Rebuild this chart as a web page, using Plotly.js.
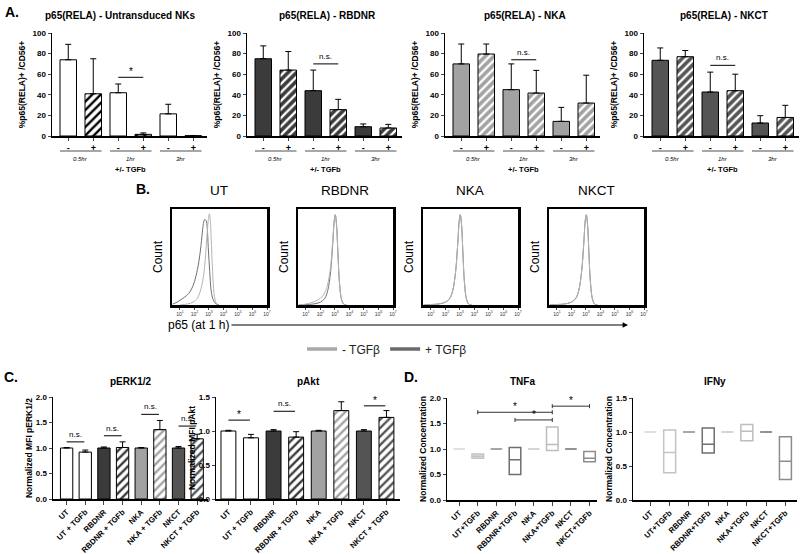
<!DOCTYPE html>
<html>
<head>
<meta charset="utf-8">
<script src="https://cdn.plot.ly/plotly-3.0.1.min.js"></script>
<style>
  html, body { margin: 0; padding: 0; background: #fff; }
  #plot { width: 800px; height: 554px; }
</style>
</head>
<body>
<div id="plot"></div>
<script>
// ---------- data ----------
var timePoints = ['0.5hr', '1hr', '3hr'];
var tgfSigns = ['-', '+'];
var cellTypes = ['UT', 'RBDNR', 'NKA', 'NKCT'];

// A: %p65(RELA)+ /CD56+ (mean, upper error) for -TGFb and +TGFb
var aTitles = ['p65(RELA) - Untransduced NKs', 'p65(RELA) - RBDNR', 'p65(RELA) - NKA', 'p65(RELA) - NKCT'];
var aMinus = [[74, 42, 21.5], [75, 44, 9], [70, 45, 14.2], [73.5, 42.7, 12.6]];
var aMinusErr = [[15, 8.5, 9.3], [12.5, 20, 2.7], [19.3, 25, 13.6], [12, 19.3, 7.1]];
var aPlus = [[41, 1.6, 0.3], [64, 25.6, 7.8], [79.6, 41.7, 32], [77, 44, 18]];
var aPlusErr = [[34, 1.4, 0.2], [18, 10, 3.5], [9.7, 22, 27], [6, 16, 11.8]];
var aSigLabel = ['*', 'n.s.', 'n.s.', 'n.s.'];
var aSigY = [57, 70, 74, 68.6];

// B: p65 histograms at 1 h (log10 decade, normalised count)
var bTitles = ['UT', 'RBDNR', 'NKA', 'NKCT'];
var utMinusDec = [1.0, 1.5, 1.9, 2.2, 2.5, 2.7, 2.85, 2.95, 3.02, 3.08, 3.15, 3.25, 3.35, 3.5, 3.7];
var utMinusCnt = [0, 0.01, 0.03, 0.07, 0.2, 0.4, 0.7, 0.88, 0.95, 0.9, 0.7, 0.35, 0.12, 0.02, 0];
var utPlusDec = [0.5, 0.8, 1.0, 1.3, 1.6, 1.9, 2.1, 2.3, 2.45, 2.6, 2.7, 2.8, 2.88, 2.95, 3.05, 3.15, 3.3, 3.5, 3.7];
var utPlusCnt = [0.01, 0.03, 0.05, 0.08, 0.12, 0.2, 0.3, 0.45, 0.62, 0.83, 0.89, 0.88, 0.8, 0.6, 0.35, 0.15, 0.05, 0.01, 0];
var rbMinusDec = [0.5, 1.0, 1.5, 2.0, 2.3, 2.5, 2.7, 2.85, 2.95, 3.02, 3.1, 3.2, 3.3, 3.45, 3.6, 3.8];
var rbMinusCnt = [0, 0.01, 0.03, 0.07, 0.13, 0.22, 0.4, 0.68, 0.88, 0.94, 0.84, 0.55, 0.25, 0.06, 0.01, 0];
var rbPlusDec = [0.5, 1.0, 1.5, 2.0, 2.3, 2.5, 2.7, 2.85, 2.95, 3.02, 3.1, 3.2, 3.3, 3.45, 3.6, 3.8];
var rbPlusCnt = [0, 0.005, 0.01, 0.03, 0.07, 0.15, 0.35, 0.65, 0.88, 0.94, 0.85, 0.55, 0.25, 0.06, 0.01, 0];
var nkDec = [0.5, 1.0, 1.5, 2.0, 2.3, 2.5, 2.7, 2.85, 2.95, 3.02, 3.1, 3.2, 3.3, 3.45, 3.6, 3.8];
var nkCnt = [0, 0.005, 0.01, 0.03, 0.07, 0.15, 0.35, 0.65, 0.88, 0.94, 0.85, 0.55, 0.25, 0.06, 0.01, 0];
var bCurves = [
  [utPlusDec, utPlusCnt, utMinusDec, utMinusCnt],
  [rbPlusDec, rbPlusCnt, rbMinusDec, rbMinusCnt],
  [nkDec, nkCnt, nkDec, nkCnt],
  [nkDec, nkCnt, nkDec, nkCnt]
];
var decadeTicks = [1, 2, 3, 4, 5, 6, 7];

// C: normalised MFI
var cLabels = ['UT', 'UT + TGFb', 'RBDNR', 'RBDNR + TGFb', 'NKA', 'NKA + TGFb', 'NKCT', 'NKCT + TGFb'];
var cTitles = ['pERK1/2', 'pAkt'];
var cYTitles = ['Normalized MFI pERK1/2', 'Normalized MFI pAkt'];
var cMinus = [[1.0, 1.0, 1.0, 1.0], [1.0, 1.0, 1.0, 1.0]];
var cMinusErr = [[0.01, 0.02, 0.01, 0.03], [0.01, 0.02, 0.01, 0.02]];
var cPlus = [[0.92, 1.01, 1.36, 1.18], [0.90, 0.91, 1.30, 1.20]];
var cPlusErr = [[0.04, 0.11, 0.18, 0.09], [0.05, 0.08, 0.13, 0.10]];
var cSigLabel = [['n.s.', 'n.s.', 'n.s.', 'n.s.'], ['*', 'n.s.', '*', '*']];
var cSigY = [[1.12, 1.24, 1.66, 1.43], [1.16, 1.29, 1.64, 1.37]];

// D: normalised concentration, floating bars (min, median, max)
var dLabels = ['UT', 'UT+TGFb', 'RBDNR', 'RBDNR+TGFb', 'NKA', 'NKA+TGFb', 'NKCT', 'NKCT+TGFb'];
var dTitles = ['TNFa', 'IFNy'];
var tnfMin = [1, 0.82, 1, 0.50, 1, 0.97, 1, 0.75];
var tnfMed = [1, 0.86, 1, 0.79, 1, 1.09, 1, 0.82];
var tnfMax = [1, 0.90, 1, 1.03, 1, 1.43, 1, 0.95];
var ifnMin = [1, 0.40, 1, 0.69, 1, 0.87, 1, 0.30];
var ifnMed = [1, 0.70, 1, 0.82, 1, 1.01, 1, 0.57];
var ifnMax = [1, 1.03, 1, 1.06, 1, 1.11, 1, 0.93];
var tnfSig = [[1, 5, 1.72], [3, 5, 1.57], [5, 7, 1.84]];

// ---------- helpers ----------
var W = 800, H = 554;
var FONT = 'Liberation Sans, Arial, sans-serif';
function fx(p) { return p / W; }
function fy(p) { return 1 - p / H; }
function sfx(k) { return k === 1 ? '' : String(k); }

var typeFill = ['#ffffff', '#3b3b3b', '#a2a2a2', '#545454'];
var typeStripe = ['#000000', '#ffffff', '#ffffff', '#ffffff'];
var dColors = ['#d6d6d6', '#c4c4c4', '#8a8a8a', '#6f6f6f', '#c8c8c8', '#bdbdbd', '#6f6f6f', '#8c8c8c'];

var traces = [];
var layout = {
  width: W, height: H,
  margin: { l: 0, r: 0, t: 0, b: 0 },
  paper_bgcolor: '#fff', plot_bgcolor: 'rgba(0,0,0,0)',
  font: { family: FONT, color: '#000' },
  barmode: 'overlay',
  showlegend: true,
  legend: {
    orientation: 'h', x: fx(302), y: fy(349), xanchor: 'left', yanchor: 'middle',
    font: { size: 12, family: FONT, color: '#222' }, itemwidth: 30, bgcolor: 'rgba(0,0,0,0)'
  },
  annotations: [],
  shapes: []
};

function note(text, x, y, size, opts) {
  var a = { text: text, x: x, y: y, xref: 'paper', yref: 'paper', showarrow: false,
    xanchor: 'center', yanchor: 'middle',
    font: { size: size, family: FONT, color: '#000' } };
  for (var key in (opts || {})) a[key] = opts[key];
  layout.annotations.push(a);
}

function catAxis(dom, range, ticktext, extra) {
  var ax = { domain: dom, range: range, tickvals: ticktext.map(function (t, i) { return i; }), ticktext: ticktext,
    ticks: 'outside', ticklen: 3, tickwidth: 1, showline: true, linecolor: '#000', linewidth: 1.5,
    showgrid: false, zeroline: false, tickfont: { size: 9, family: FONT, weight: 'bold' } };
  for (var key in (extra || {})) ax[key] = extra[key];
  return ax;
}
function valAxis(dom, range, dtick, title, extra) {
  var ax = { domain: dom, range: range, dtick: dtick, ticks: 'outside', ticklen: 3, tickwidth: 1,
    showline: true, linecolor: '#000', linewidth: 1.5, showgrid: false, zeroline: false,
    tickfont: { size: 8, family: FONT, weight: 'bold' },
    title: { text: title, font: { size: 8.5, family: FONT, weight: 'bold' }, standoff: 2 } };
  for (var key in (extra || {})) ax[key] = extra[key];
  return ax;
}
function errBar(arr) {
  return { type: 'data', symmetric: false, array: arr, arrayminus: arr.map(function () { return 0; }),
    color: '#000', thickness: 1, width: 3 };
}
function sigLine(s, x0, x1, y, label) {
  layout.shapes.push({ type: 'line', xref: 'x' + s, yref: 'y' + s, x0: x0, x1: x1, y0: y, y1: y,
    line: { color: '#000', width: 1 } });
  layout.annotations.push({ text: label, xref: 'x' + s, yref: 'y' + s, x: (x0 + x1) / 2, y: y,
    xanchor: 'center', yanchor: 'bottom', showarrow: false, yshift: label === '*' ? -2 : 1,
    font: { size: label === '*' ? 10 : 8, family: FONT, color: '#000' } });
}

note('A.', fx(3), fy(12), 14, { xanchor: 'left', font: { size: 14, family: FONT, weight: 'bold' } });

// ---------- panel A ----------
var aLeft = [52, 247, 445, 644];
var aTicks = [];
timePoints.forEach(function () { tgfSigns.forEach(function (g) { aTicks.push(g); }); });
for (var k = 0; k < 4; k++) {
  var s = sfx(k + 1);
  var dom = [fx(aLeft[k]), fx(aLeft[k] + 155)];
  layout['xaxis' + s] = catAxis(dom, [-0.65, 5.55], aTicks, { anchor: 'y' + s });
  layout['yaxis' + s] = valAxis([fy(136), fy(33)], [0, 100], 20, '%p65(RELA)+ /CD56+',
    { anchor: 'x' + s, title: { text: '%p65(RELA)+ /CD56+', font: { size: 8.5, family: FONT, weight: 'bold' }, standoff: 5 } });
  traces.push({ type: 'bar', xaxis: 'x' + s, yaxis: 'y' + s, showlegend: false, width: 0.66,
    x: timePoints.map(function (t, i) { return 2 * i; }), y: aMinus[k], error_y: errBar(aMinusErr[k]),
    marker: { color: typeFill[k], line: { color: '#000', width: 1 } } });
  traces.push({ type: 'bar', xaxis: 'x' + s, yaxis: 'y' + s, showlegend: false, width: 0.66,
    x: timePoints.map(function (t, i) { return 2 * i + 1; }), y: aPlus[k], error_y: errBar(aPlusErr[k]),
    marker: { color: typeFill[k], line: { color: '#000', width: 1 },
      pattern: { shape: '/', bgcolor: typeFill[k], fgcolor: typeStripe[k], size: 6, solidity: 0.4 } } });
  timePoints.forEach(function (t, i) {
    layout.shapes.push({ type: 'line', xref: 'x' + s, yref: 'paper', x0: 2 * i - 0.33, x1: 2 * i + 1.33,
      y0: fy(151), y1: fy(151), line: { color: '#8a8a8a', width: 1.5 } });
    layout.annotations.push({ text: t, xref: 'x' + s, yref: 'paper', x: 2 * i + 0.5, y: fy(159), showarrow: false,
      xanchor: 'center', yanchor: 'middle', font: { size: 6, family: FONT, style: 'italic', color: '#000' } });
  });
  layout.annotations.push({ text: '+/- TGFb', xref: 'x' + s, yref: 'paper', x: 2.5, y: fy(169), showarrow: false,
    xanchor: 'center', yanchor: 'middle', font: { size: 7.5, family: FONT, weight: 'bold', color: '#000' } });
  sigLine(s, 2, 3, aSigY[k], aSigLabel[k]);
  note(aTitles[k], k === 0 ? fx(120) : fx(aLeft[k] + 80), fy(15), 10, { font: { size: 10, family: FONT, weight: 'bold' } });
}

// ---------- panel B ----------
note('B.', fx(134), fy(189), 14, { xanchor: 'left', font: { size: 14, family: FONT, weight: 'bold' } });
var bLeft = [172, 298, 423, 549];
for (var b = 0; b < 4; b++) {
  var s2 = sfx(b + 5);
  layout['xaxis' + s2] = { domain: [fx(bLeft[b]), fx(bLeft[b] + 95)], range: [0.45, 7], anchor: 'y' + s2,
    tickvals: decadeTicks, ticktext: decadeTicks.map(function (d) { return '10<sup>' + d + '</sup>'; }),
    ticks: 'outside', ticklen: 2, showline: true, mirror: true, linecolor: '#000', linewidth: 2.5,
    showgrid: false, zeroline: false, tickfont: { size: 5, family: FONT, color: '#333' } };
  layout['yaxis' + s2] = { domain: [fy(305), fy(209)], range: [0, 1], anchor: 'x' + s2,
    showticklabels: false, ticks: '', showline: true, mirror: true, linecolor: '#000', linewidth: 2.5,
    showgrid: false, zeroline: false, title: { text: 'Count', font: { size: 12, family: FONT }, standoff: 5 } };
  var c = bCurves[b];
  traces.push({ type: 'scatter', mode: 'lines', xaxis: 'x' + s2, yaxis: 'y' + s2, showlegend: false,
    x: c[0], y: c[1], line: { color: '#707070', width: 1, shape: 'spline' } });
  traces.push({ type: 'scatter', mode: 'lines', xaxis: 'x' + s2, yaxis: 'y' + s2, showlegend: false,
    x: c[2], y: c[3], line: { color: '#b4b4b4', width: 1, shape: 'spline' } });
  note(bTitles[b], fx(bLeft[b] + 47), fy(190), 13.5);
}
traces.push({ type: 'scatter', mode: 'lines', x: [null], y: [null], xaxis: 'x5', yaxis: 'y5',
  name: '- TGF\u03b2', line: { color: '#a8a8a8', width: 3.5 } });
traces.push({ type: 'scatter', mode: 'lines', x: [null], y: [null], xaxis: 'x5', yaxis: 'y5',
  name: '+ TGF\u03b2', line: { color: '#6a6a6a', width: 3.5 } });
note('p65 (at 1 h)', fx(166), fy(325), 12, { xanchor: 'left' });
layout.annotations.push({ text: '', xref: 'paper', yref: 'paper', x: fx(628), y: fy(325), ax: -398, ay: 0,
  showarrow: true, arrowhead: 2, arrowsize: 0.9, arrowwidth: 1.2, arrowcolor: '#000' });

// ---------- panel C ----------
note('C.', fx(2), fy(377), 14, { xanchor: 'left', font: { size: 14, family: FONT, weight: 'bold' } });
var cDom = [[53, 208], [216, 400]];
var cRange = [[-0.73, 7.58], [-0.55, 7.6]];
var cYmax = [2.0, 1.5];
for (var m = 0; m < 2; m++) {
  var s3 = sfx(m + 9);
  layout['xaxis' + s3] = catAxis([fx(cDom[m][0]), fx(cDom[m][1])], cRange[m], cLabels,
    { anchor: 'y' + s3, tickangle: -45, ticklen: 4, tickfont: { size: 7.8, family: FONT, weight: 'bold' } });
  layout['yaxis' + s3] = valAxis([fy(499), fy(397)], [0, cYmax[m]], 0.5, cYTitles[m],
    { anchor: 'x' + s3, tickformat: '.1f' });
  traces.push({ type: 'bar', xaxis: 'x' + s3, yaxis: 'y' + s3, showlegend: false, width: 0.66,
    x: cellTypes.map(function (t, i) { return 2 * i; }), y: cMinus[m], error_y: errBar(cMinusErr[m]),
    marker: { color: typeFill, line: { color: '#000', width: 1 } } });
  traces.push({ type: 'bar', xaxis: 'x' + s3, yaxis: 'y' + s3, showlegend: false, width: 0.66,
    x: cellTypes.map(function (t, i) { return 2 * i + 1; }), y: cPlus[m], error_y: errBar(cPlusErr[m]),
    marker: { color: typeFill, line: { color: '#000', width: 1 },
      pattern: { shape: '/', bgcolor: typeFill, fgcolor: typeStripe, size: 6, solidity: 0.4 } } });
  for (var j = 0; j < 4; j++) sigLine(s3, 2 * j, 2 * j + 0.95, cSigY[m][j], cSigLabel[m][j]);
  note(cTitles[m], fx((cDom[m][0] + cDom[m][1]) / 2), fy(381), 10, { font: { size: 10, family: FONT, weight: 'bold' } });
}

// ---------- panel D ----------
note('D.', fx(402), fy(377), 14, { xanchor: 'left', font: { size: 14, family: FONT, weight: 'bold' } });
var dDom = [[447, 597], [633, 797]];
var dRange = [[-0.65, 7.4], [-0.9, 7.6]];
var dYmax = [2.0, 1.5];
var dStats = [[tnfMin, tnfMed, tnfMax], [ifnMin, ifnMed, ifnMax]];
for (var n = 0; n < 2; n++) {
  var s4 = sfx(n + 11);
  layout['xaxis' + s4] = catAxis([fx(dDom[n][0]), fx(dDom[n][1])], dRange[n], dLabels,
    { anchor: 'y' + s4, tickangle: -45, ticklen: 4, tickfont: { size: 7.8, family: FONT, weight: 'bold' } });
  layout['yaxis' + s4] = valAxis([fy(500), fy(398)], [0, dYmax[n]], 0.5, 'Normalized Concentration',
    { anchor: 'x' + s4, tickformat: '.1f' });
  var st = dStats[n];
  dLabels.forEach(function (lab, i) {
    traces.push({ type: 'box', xaxis: 'x' + s4, yaxis: 'y' + s4, showlegend: false, x: [i],
      q1: [st[0][i]], median: [st[1][i]], q3: [st[2][i]], lowerfence: [st[0][i]], upperfence: [st[2][i]],
      width: 0.62, line: { color: dColors[i], width: 1.5 },
      fillcolor: (n === 0 && i === 1) ? '#e4e4e4' : 'rgba(0,0,0,0)', hoverinfo: 'skip' });
  });
  note(dTitles[n], fx((dDom[n][0] + dDom[n][1]) / 2), fy(381), 10, { font: { size: 10, family: FONT, weight: 'bold' } });
}
tnfSig.forEach(function (sg) {
  var c0 = 0.04;
  layout.shapes.push({ type: 'path', xref: 'x11', yref: 'y11',
    path: 'M' + sg[0] + ',' + (sg[2] - c0) + ' L' + sg[0] + ',' + (sg[2] + c0) +
      ' M' + sg[0] + ',' + sg[2] + ' L' + sg[1] + ',' + sg[2] +
      ' M' + sg[1] + ',' + (sg[2] - c0) + ' L' + sg[1] + ',' + (sg[2] + c0),
    line: { color: '#333', width: 1 } });
  layout.annotations.push({ text: '*', xref: 'x11', yref: 'y11', x: (sg[0] + sg[1]) / 2, y: sg[2],
    xanchor: 'center', yanchor: 'bottom', yshift: -2, showarrow: false, font: { size: 10, family: FONT, color: '#000' } });
});

Plotly.newPlot('plot', traces, layout, { staticPlot: true, displayModeBar: false });
</script>
</body>
</html>
